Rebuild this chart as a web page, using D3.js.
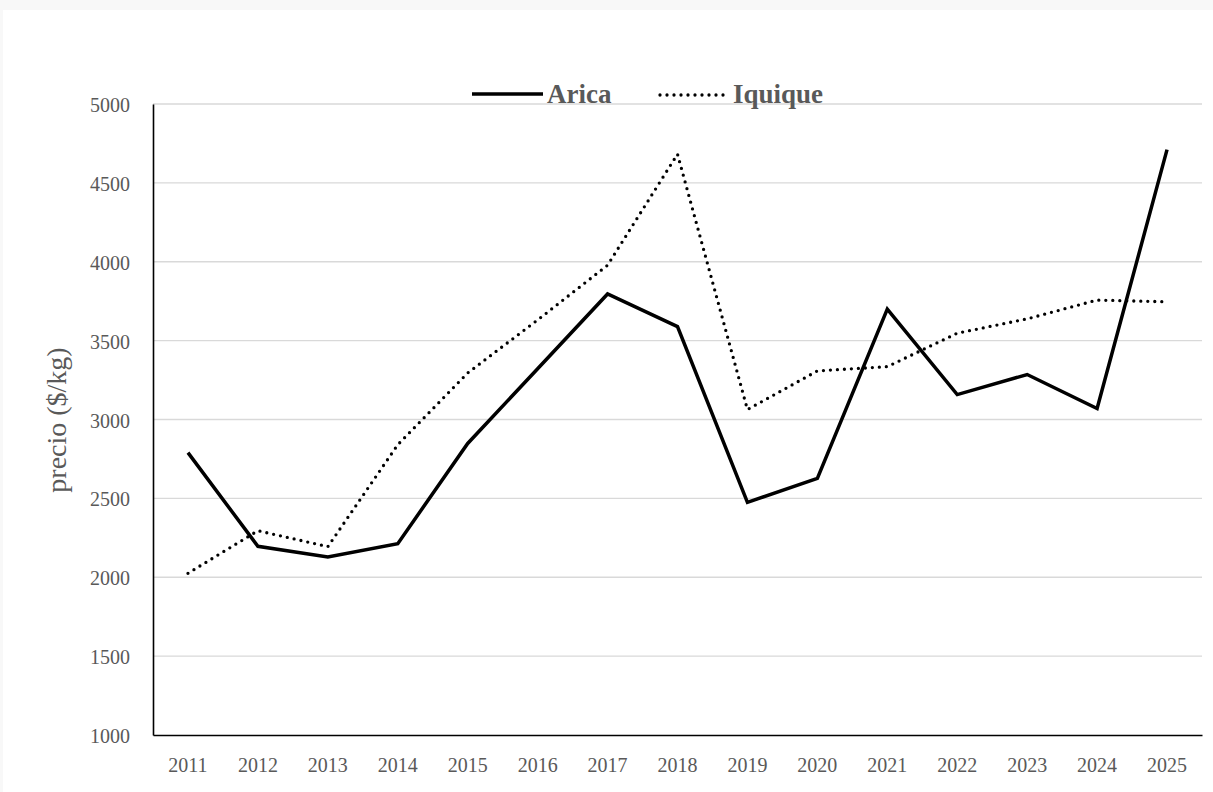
<!DOCTYPE html>
<html>
<head>
<meta charset="utf-8">
<script src="https://cdn.jsdelivr.net/npm/d3@7"></script>
<style>
  html, body { margin: 0; padding: 0; background: #ffffff; }
  svg { display: block; }
  text { font-family: "Liberation Serif", "DejaVu Serif", serif; fill: #595959; }
</style>
</head>
<body>
<svg id="chart" width="1213" height="792"></svg>
<script>
const years = ["2011","2012","2013","2014","2015","2016","2017","2018","2019","2020","2021","2022","2023","2024","2025"];
const arica = [2790, 2196, 2128, 2213, 2848, 3322, 3796, 3589, 2475, 2627, 3700, 3158, 3285, 3070, 4711];
const iquique = [2025, 2295, 2194, 2840, 3295, 3631, 3978, 4682, 3063, 3308, 3335, 3547, 3638, 3757, 3746];
const yTicks = [1000, 1500, 2000, 2500, 3000, 3500, 4000, 4500, 5000];
const seriesNames = ["Arica", "Iquique"];
const yTitle = "precio ($/kg)";

const svg = d3.select("#chart");
const W = 1213, H = 792;
const m = { left: 153, right: 11, top: 104, bottom: 57 };

// faint border pattern
svg.append("rect").attr("x", 0).attr("y", 0).attr("width", W).attr("height", 10).attr("fill", "#f8f8f8");
svg.append("rect").attr("x", 0).attr("y", 0).attr("width", 3).attr("height", H).attr("fill", "#f8f8f8");

const x = d3.scaleBand().domain(years).range([m.left, W - m.right]);
const y = d3.scaleLinear().domain([1000, 5000]).range([H - m.bottom, m.top]);
const cx = d => x(d) + x.bandwidth() / 2;

// gridlines
svg.append("g")
  .selectAll("line")
  .data(yTicks.filter(t => t > 1000))
  .join("line")
  .attr("x1", m.left).attr("x2", W - m.right)
  .attr("y1", d => y(d)).attr("y2", d => y(d))
  .attr("stroke", "#d9d9d9").attr("stroke-width", 1.3);

// y axis
const yAxis = svg.append("g")
  .attr("transform", `translate(${m.left},0)`)
  .call(d3.axisLeft(y).tickValues(yTicks).tickSize(0).tickPadding(23).tickFormat(d3.format("d")));
yAxis.select(".domain").attr("stroke", "#000").attr("stroke-width", 1.6);
yAxis.selectAll("text").style("font-size", "20px").attr("fill", "#595959").attr("dy", "0.38em");

// x axis
const xAxis = svg.append("g")
  .attr("transform", `translate(0,${H - m.bottom})`)
  .call(d3.axisBottom(x).tickSize(0).tickPadding(23));
xAxis.select(".domain").attr("stroke", "#000").attr("stroke-width", 1.6);
xAxis.selectAll("text").style("font-size", "20px").attr("fill", "#595959");

// y title
svg.append("text")
  .attr("transform", `translate(66,420) rotate(-90)`)
  .attr("text-anchor", "middle")
  .style("font-size", "28px")
  .text(yTitle);

// lines
const line = d3.line().x((d, i) => cx(years[i])).y(d => y(d));

svg.append("path")
  .datum(arica)
  .attr("d", line)
  .attr("fill", "none")
  .attr("stroke", "#000")
  .attr("stroke-width", 3.5)
  .attr("stroke-linejoin", "miter");

svg.append("path")
  .datum(iquique)
  .attr("d", line)
  .attr("fill", "none")
  .attr("stroke", "#000")
  .attr("stroke-width", 3.3)
  .attr("stroke-linecap", "round")
  .attr("stroke-dasharray", "0 7");

// legend
const lg = svg.append("g");
lg.append("line").attr("x1", 472).attr("x2", 543).attr("y1", 94).attr("y2", 94)
  .attr("stroke", "#000").attr("stroke-width", 3.5);
lg.append("text").attr("x", 547).attr("y", 103).style("font-size", "27px").style("font-weight", "bold")
  .text(seriesNames[0]);
lg.append("line").attr("x1", 660).attr("x2", 729).attr("y1", 95).attr("y2", 95)
  .attr("stroke", "#000").attr("stroke-width", 3.3).attr("stroke-linecap", "round").attr("stroke-dasharray", "0 7");
lg.append("text").attr("x", 733).attr("y", 103).style("font-size", "27px").style("font-weight", "bold")
  .text(seriesNames[1]);
</script>
</body>
</html>
